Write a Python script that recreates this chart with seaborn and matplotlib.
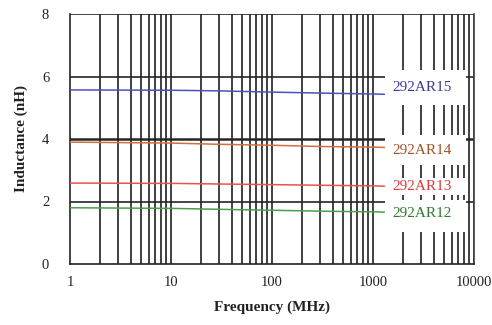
import numpy as np
import pandas as pd
import seaborn as sns
import matplotlib
matplotlib.use("Agg")
import matplotlib.pyplot as plt
from matplotlib.patches import Rectangle
from matplotlib.ticker import LogLocator, FixedLocator, NullFormatter

# ---- data ----
freq = [1, 10, 30, 100, 300, 1000, 1300]
ar15 = [5.57, 5.56, 5.54, 5.50, 5.47, 5.44, 5.43]
ar14 = [3.90, 3.87, 3.83, 3.80, 3.76, 3.74, 3.73]
ar13 = [2.59, 2.58, 2.56, 2.54, 2.52, 2.50, 2.49]
ar12 = [1.80, 1.78, 1.75, 1.72, 1.69, 1.67, 1.66]
series_names = ["292AR15", "292AR14", "292AR13", "292AR12"]
x_ticks = [1, 10, 100, 1000, 10000]
x_ticklabels = ["1", "10", "100", "1000", "10000"]
y_ticks = [0, 2, 4, 6, 8]

line_colors = ["#5050b8", "#d0703c", "#ee5050", "#4aa04a"]
text_colors = ["#3a3a9c", "#a4522a", "#e23a3a", "#2f7a2f"]

sns.set_style("white")
plt.rcParams["font.family"] = ["Liberation Serif", "DejaVu Serif"]

df = pd.DataFrame({"freq": freq * 4,
                   "L": ar15 + ar14 + ar13 + ar12,
                   "series": sum([[n] * len(freq) for n in series_names], [])})

fig = plt.figure(figsize=(4.92, 3.25), dpi=100)
ax = fig.add_axes([70 / 492, 61 / 325, 404 / 492, 250 / 325])

sns.lineplot(data=df, x="freq", y="L", hue="series", palette=dict(zip(series_names, line_colors)),
             ax=ax, legend=False, linewidth=1.1, zorder=3)

ax.set_xscale("log")
ax.set_xlim(1, 10000)
ax.set_ylim(0, 8)

# grid lines
for d in range(4):
    for m in range(1, 10):
        v = m * 10 ** d
        if v > 1:
            ax.axvline(v, color="#404040", lw=1.4, zorder=1)
ax.axvline(10000, color="#404040", lw=1.4, zorder=1)
for yv in [2, 4, 6, 8]:
    ax.axhline(yv, color="#252525", lw=1.2 if yv != 4 else 1.8, zorder=1)

# white label boxes
boxes = [(5.09, 6.2), (3.17, 4.13), (2.2, 2.75), (1.02, 2.05)]
text_y = [5.64, 3.62, 2.48, 1.62]
for (y0, y1), ty, name, c in zip(boxes, text_y, series_names, text_colors):
    ax.add_patch(Rectangle((1300, y0), 8400 - 1300, y1 - y0, facecolor="white",
                           edgecolor="none", zorder=4))
    ax.text(1550, ty, name, color=c, fontsize=11, va="center", ha="left", zorder=5)

ax.xaxis.set_major_locator(FixedLocator(x_ticks))
ax.set_xticklabels(x_ticklabels)
ax.xaxis.set_minor_locator(LogLocator(base=10, subs=np.arange(2, 10)))
ax.xaxis.set_minor_formatter(NullFormatter())
ax.set_yticks(y_ticks)
ax.tick_params(axis="both", which="major", labelsize=10.5, direction="out",
               length=3, width=1, color="#222222", labelcolor="#222222")
ax.tick_params(axis="x", which="minor", length=0)
ax.tick_params(axis="y", pad=12)
ax.tick_params(axis="x", pad=6)

for s in ["left", "bottom"]:
    ax.spines[s].set_color("#222222")
    ax.spines[s].set_linewidth(1.2)
ax.spines["top"].set_visible(False)
ax.spines["right"].set_color("#404040")
ax.spines["right"].set_linewidth(1.2)

ax.set_xlabel("Frequency (MHz)", fontsize=11, fontweight="bold", color="#222222", labelpad=8)
ax.set_ylabel("Inductance (nH)", fontsize=11, fontweight="bold", color="#222222", labelpad=10)

fig.savefig("out.png", dpi=100, facecolor="white")
